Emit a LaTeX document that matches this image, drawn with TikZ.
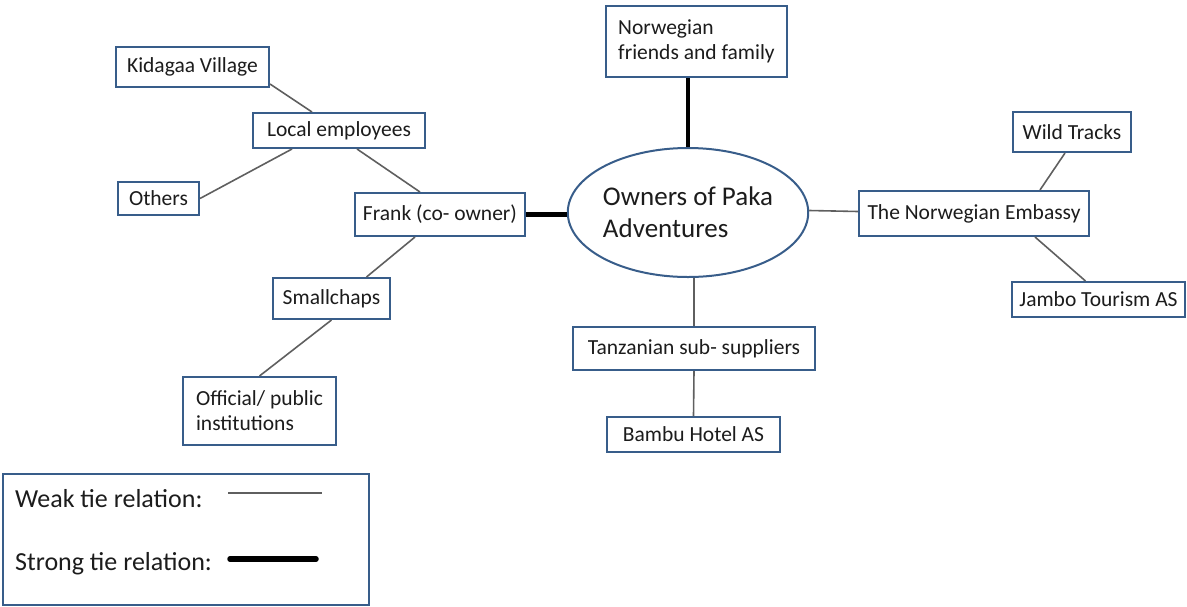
\documentclass[tikz,border=0pt]{standalone}
\usepackage{fontspec}
\setmainfont{Carlito}
\usetikzlibrary{shapes.geometric}

\definecolor{boxblue}{HTML}{385D8A}
\definecolor{weakgrey}{HTML}{5F5F5F}
\definecolor{txt}{HTML}{1C1C1C}

\tikzset{
  actor/.style={draw=boxblue, line width=2pt, fill=white, inner sep=0pt,
    text=txt, font=\fontsize{21.5}{25}\selectfont},
  hub/.style={ellipse, draw=boxblue, line width=2pt, fill=white, inner sep=0pt,
    text=txt, align=left, font=\fontsize{27}{32}\selectfont},
  weak/.style={draw=weakgrey, line width=1.6pt},
  strong/.style={draw=black, line width=4.5pt},
  keytext/.style={anchor=base west, inner sep=0pt, text=txt,
    font=\fontsize{26}{30}\selectfont}
}

\begin{document}
\begin{tikzpicture}[x=1pt,y=-1pt]
\useasboundingbox (0,0) rectangle (1187,606);

% central actor
\node[hub, minimum width=210pt, minimum height=129pt] (own) at (688,212.5)
  {Owners of Paka\\Adventures};

% surrounding actors
\node[actor, minimum width=181pt, minimum height=71pt, align=left] (nor) at (696.5,41.5)
  {Norwegian\\friends and family};
\node[actor, minimum width=170pt, minimum height=43pt] (frank) at (440,214.5) {Frank (co- owner)};
\node[actor, minimum width=172pt, minimum height=35pt] (loc) at (339,130.5) {Local employees};
\node[actor, minimum width=153pt, minimum height=40pt] (kid) at (192.5,67) {Kidagaa Village};
\node[actor, minimum width=81pt, minimum height=33pt] (oth) at (158.5,198.5) {Others};
\node[actor, minimum width=117pt, minimum height=41pt] (small) at (331.5,298.5) {Smallchaps};
\node[actor, minimum width=153pt, minimum height=68pt, align=left] (off) at (259.5,411)
  {Official/ public\\institutions};
\node[actor, minimum width=230pt, minimum height=45pt] (emb) at (974,213.5) {The Norwegian Embassy};
\node[actor, minimum width=118pt, minimum height=40pt] (wild) at (1072,132) {Wild Tracks};
\node[actor, minimum width=173pt, minimum height=35pt] (jam) at (1098.5,299.5) {Jambo Tourism AS};
\node[actor, minimum width=242pt, minimum height=43pt] (tan) at (694,348.5) {Tanzanian sub- suppliers};
\node[actor, minimum width=173pt, minimum height=35pt] (bam) at (693.5,434.5) {Bambu Hotel AS};

% strong ties
\draw[strong] (own.north |- nor.south) -- (own.north);
\draw[strong] (frank.east) -- (frank.east -| own.west);

% weak ties
\draw[weak] ([yshift=4pt]kid.south east) -- ([xshift=-27pt]loc.north);
\draw[weak] ([xshift=-47pt]loc.south) -- (oth.east);
\draw[weak] ([xshift=18pt]loc.south) -- ([xshift=-20pt]frank.north);
\draw[weak] ([xshift=-25pt]frank.south) -- ([xshift=35pt]small.north);
\draw[weak] (small.south) -- (off.north);
\draw[weak] ([yshift=2pt]own.east) -- ([yshift=2pt]emb.west);
\draw[weak] ([xshift=66pt]emb.north) -- ([xshift=-7pt]wild.south);
\draw[weak] ([xshift=61pt]emb.south) -- ([xshift=-13pt]jam.north);
\draw[weak] (own.south -| tan.north) -- (tan.north);
\draw[weak] (tan.south) -- (bam.north);

% key
\node[draw=boxblue, line width=2pt, minimum width=366pt, minimum height=131pt, inner sep=0pt]
  (key) at (186,539.5) {};
\node[keytext] (weaklbl) at (15,507) {Weak tie relation:};
\node[keytext] (stronglbl) at (15,570) {Strong tie relation:};
\coordinate (wa) at (228,493);
\coordinate (wb) at (322,493);
\coordinate (sa) at (230,559);
\coordinate (sb) at (316,559);
\draw[weak, line width=2pt] (wa) -- (wb);
\draw[strong, line width=5.5pt, line cap=round] (sa) -- (sb);
\end{tikzpicture}
\end{document}
